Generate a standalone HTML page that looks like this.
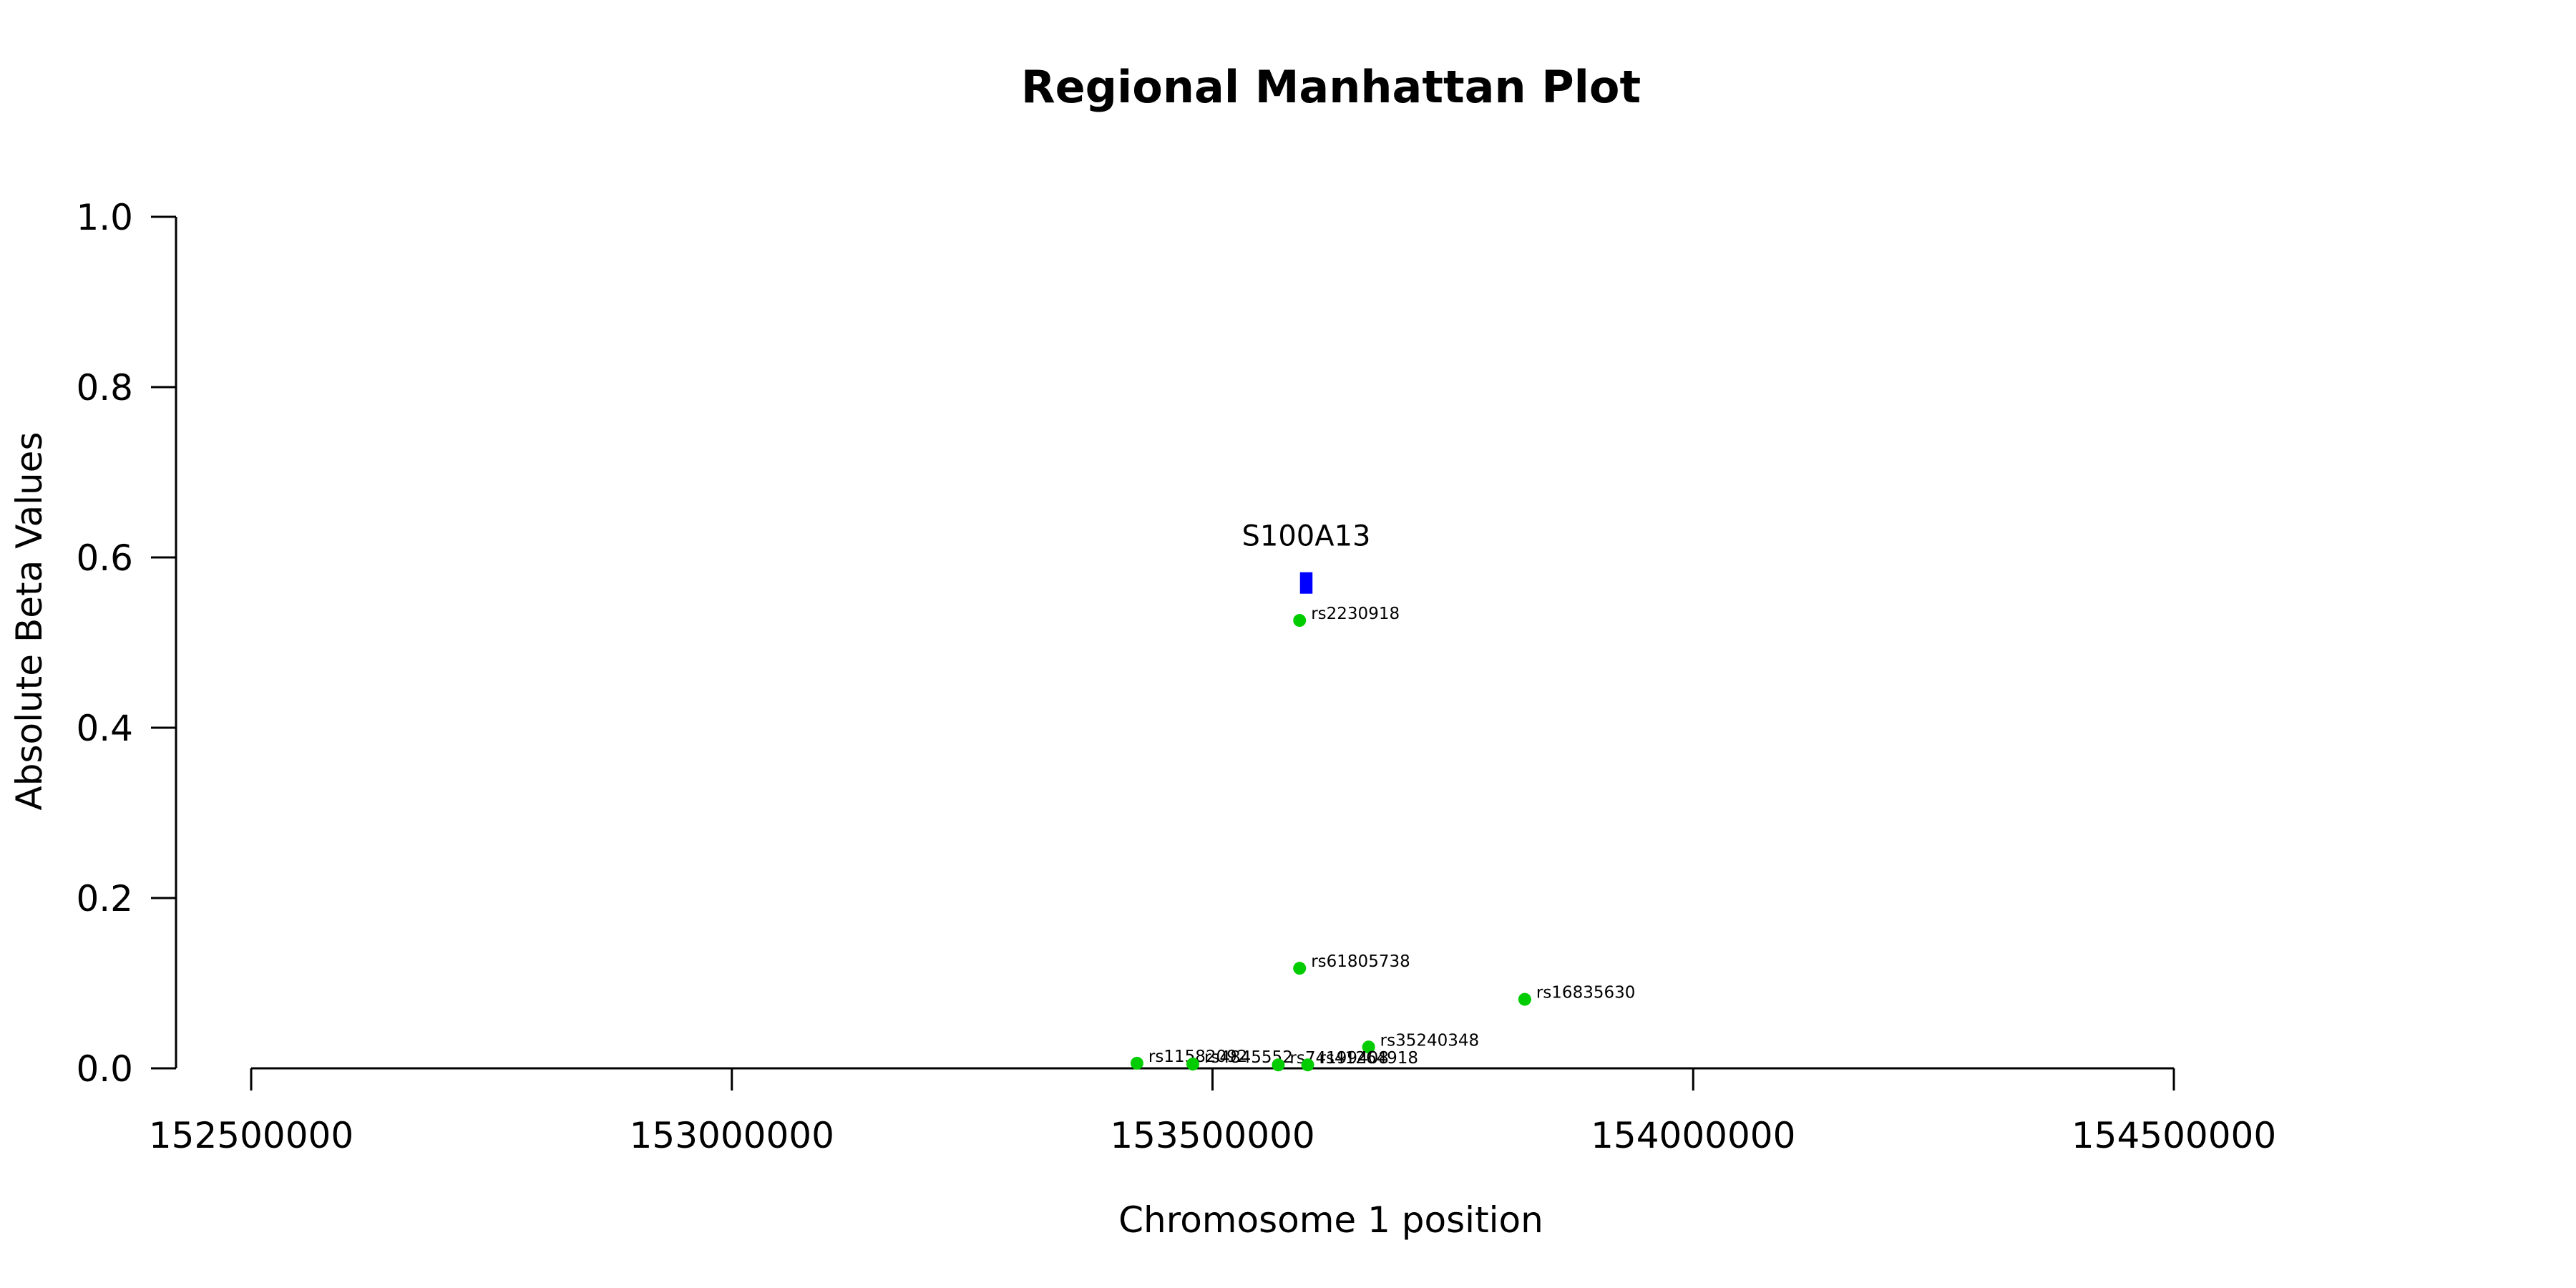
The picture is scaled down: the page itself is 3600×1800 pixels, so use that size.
<!DOCTYPE html>
<html><head><meta charset="utf-8"><style>
html,body{margin:0;padding:0;background:#fff;}
svg{display:block;font-family:"DejaVu Sans","Liberation Sans",sans-serif;}
</style></head><body>
<svg id="chart" width="3600" height="1800" viewBox="0 0 3600 1800">
<text x="1860" y="143" text-anchor="middle" font-size="62" font-weight="bold">Regional Manhattan Plot</text>
<text transform="translate(58,868) rotate(-90)" text-anchor="middle" font-size="50">Absolute Beta Values</text>
<text x="1860" y="1722" text-anchor="middle" font-size="50">Chromosome 1 position</text>
<g id="axes"></g>
<g id="marks"></g>
</svg>
<script>
const yTicks = [0.0, 0.2, 0.4, 0.6, 0.8, 1.0];
const xTicks = [152500000, 153000000, 153500000, 154000000, 154500000];
const snpNames = ["rs2230918","rs61805738","rs16835630","rs35240348","rs11582092","rs4845552","rs74199408","rs41264918"];
const snpPos = [153590600,153590600,153824800,153662400,153421400,153479500,153568400,153599000];
const snpBeta = [0.526,0.1175,0.081,0.025,0.006,0.005,0.004,0.004];
const geneNames = ["S100A13"];
const geneStart = [153591000];
const geneEnd = [153604000];
const geneBeta = [0.570];

const NS="http://www.w3.org/2000/svg";
const X0=351, X1=3038, Y0=1493, Y1=303;
function xs(v){return X0+(v-152500000)/(154500000-152500000)*(X1-X0);}
function ys(v){return Y0-v*(Y0-Y1);}
function mk(tag,attrs,parent){const e=document.createElementNS(NS,tag);for(const k in attrs)e.setAttribute(k,attrs[k]);parent.appendChild(e);return e;}
const axes=document.getElementById('axes'), marks=document.getElementById('marks');

let yl=mk('line',{x1:246,y1:ys(0),x2:246,y2:ys(1),stroke:'#000','stroke-width':3},axes);


yTicks.forEach(t=>{
  const l=mk('line',{x1:211,x2:246,y1:ys(t),y2:ys(t),stroke:'#000','stroke-width':3},axes);
  
  
  const tx=mk('text',{x:186,y:ys(t)+18,'text-anchor':'end','font-size':50},axes);
  tx.textContent=t.toFixed(1);
  
  
});
let xl=mk('line',{x1:xs(xTicks[0]),x2:xs(xTicks[xTicks.length-1]),y1:Y0,y2:Y0,stroke:'#000','stroke-width':3},axes);


xTicks.forEach(t=>{
  const l=mk('line',{x1:xs(t),x2:xs(t),y1:Y0,y2:1524,stroke:'#000','stroke-width':3},axes);
  
  
  const tx=mk('text',{x:xs(t),y:1604,'text-anchor':'middle','font-size':50},axes);
  tx.textContent=String(t);
  
  
});
geneNames.forEach((g,i)=>{
  const x1=xs(geneStart[i]), x2=xs(geneEnd[i]), y=ys(geneBeta[i]);
  const r=mk('rect',{x:x1,y:y-15,width:x2-x1,height:30,fill:'#0000ff'},marks);
  
  
  const t=mk('text',{x:(x1+x2)/2,y:y-52,'text-anchor':'middle','font-size':40},marks);
  t.textContent=g;
  
  
});
snpNames.forEach((n,i)=>{
  const cx=xs(snpPos[i]), cy=ys(snpBeta[i]);
  const c=mk('circle',{cx:cx,cy:cy,r:9,fill:'#00cc00'},marks);
  
  
  const t=mk('text',{x:cx+16,y:cy-2,'font-size':23},marks);
  t.textContent=n;
  
  
});
</script>
</body></html>
